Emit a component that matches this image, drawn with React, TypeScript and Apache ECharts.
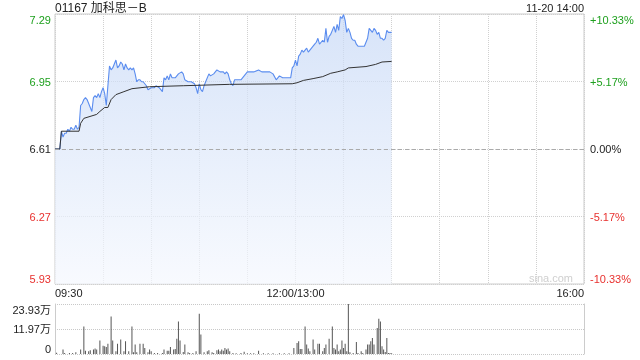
import React, { useEffect, useRef } from "react";
import * as echarts from "echarts";

const prevClose = 6.61;
const titleText = "01167 加科思－B";
const dateText = "11-20 14:00";

// minute index from 09:30 (lunch break removed; 150 = 12:00/13:00, 330 = 16:00)
const priceMinutes = [
  0, 3, 4, 5, 6, 7, 8, 9, 10, 11, 12, 13, 14, 15, 16, 17, 18, 19, 20, 21, 22, 23, 24, 25, 26, 27, 28, 29, 30, 31, 32,
  34, 35, 36, 37, 38, 39, 40, 41, 42, 43, 44, 45, 46, 47, 48, 49, 50, 51, 52, 53, 54, 55, 56, 57, 58, 60, 62, 63, 65,
  67, 68, 69, 70, 71, 72, 73, 75, 77, 79, 80, 81, 83, 85, 87, 88, 89, 90, 91, 92, 93, 94, 96, 97, 99, 101, 103, 105,
  106, 107, 108, 109, 110, 111, 112, 116, 118, 120, 124, 127, 129, 134, 136, 138, 140, 142, 147, 148, 149, 150, 151,
  152, 153, 154, 155, 156, 157, 158, 159, 160, 161, 162, 163, 164, 165, 166, 167, 168, 169, 170, 171, 172, 173, 174,
  175, 176, 177, 178, 179, 180, 181, 182, 183, 184, 185, 186, 187, 188, 189, 190, 193, 194, 195, 196, 197, 198, 199,
  200, 201, 202, 203, 204, 205, 206, 207, 208, 210,
];
const priceValues = [
  6.61, 6.61, 6.70, 6.67, 6.69, 6.69, 6.71, 6.70, 6.72, 6.71, 6.71, 6.73, 6.71, 6.72, 6.83, 6.84, 6.86, 6.87, 6.86,
  6.84, 6.82, 6.80, 6.87, 6.88, 6.87, 6.89, 6.87, 6.90, 6.92, 6.89, 6.83,
  7.03, 7.01, 7.02, 7.04, 7.06, 7.02, 7.03, 7.05, 7.04, 7.01, 7.04, 7.02, 7.01, 7.02, 7.01, 7.02, 6.99, 6.95, 6.96,
  6.96, 6.95, 6.95, 6.94, 6.93, 6.91, 6.92, 6.92, 6.93, 6.92,
  6.90, 6.97, 6.96, 6.98, 6.96, 6.99, 6.97, 6.97, 6.99, 7.00, 6.99, 6.96, 6.95, 6.95, 6.94, 6.92, 6.89, 6.94, 6.91,
  6.90, 6.93, 6.95, 6.99, 6.98, 6.99, 7.01, 7.00, 7.00,
  6.99, 7.00, 6.99, 6.96, 6.94, 6.93, 6.96, 6.96, 6.98, 7.00, 7.00, 7.01, 7.00, 7.00, 6.99, 6.96, 6.98, 6.97, 6.97,
  7.02, 7.03, 7.06, 7.03,
  7.08, 7.09, 7.11, 7.10, 7.11, 7.12, 7.10, 7.11, 7.12, 7.13, 7.14, 7.15, 7.17, 7.14, 7.15, 7.16, 7.15, 7.22, 7.15,
  7.18, 7.19, 7.21, 7.23, 7.20, 7.24, 7.21, 7.28, 7.27, 7.29, 7.26, 7.20, 7.22, 7.20, 7.17, 7.16, 7.16, 7.14, 7.13,
  7.13, 7.13, 7.15, 7.17, 7.22, 7.21, 7.20, 7.22, 7.21, 7.19, 7.20, 7.17, 7.17, 7.16, 7.17, 7.21, 7.20, 7.20,
];

const avgMinutes = [0, 3, 4, 15, 16, 18, 26, 28, 31, 33, 35, 38, 43, 48, 59, 80, 109, 148, 151, 155, 161, 167, 172, 176, 181, 183, 194, 200, 204, 210];
const avgValues = [
  6.61, 6.61, 6.70, 6.70, 6.74, 6.765, 6.785, 6.80, 6.82, 6.82, 6.86, 6.885, 6.90, 6.915, 6.925, 6.93, 6.937, 6.94,
  6.945, 6.957, 6.966, 6.976, 6.993, 7.0, 7.01, 7.02, 7.027, 7.038, 7.05, 7.053,
];

// volume in 万 shares
const volMinutes = [
  1, 5, 6, 9, 11, 13, 16, 18, 19, 21, 22, 24, 25, 26, 28, 30, 31, 32, 33, 35, 36, 38, 39, 41, 43, 44, 46, 48, 49, 50,
  51, 53, 55, 56, 58, 59, 60, 62, 64, 67, 68, 70, 71, 72, 74, 75, 76, 77, 78, 80, 81, 83, 84, 86, 88, 90, 91, 93, 95,
  96, 98, 99, 101, 102, 103, 104, 105, 106, 107, 108, 109, 111, 113, 116, 118, 120, 122, 124, 127, 130, 133, 136, 140,
  143, 146, 149, 151, 152, 153, 154, 156, 157, 158, 159, 161, 162, 164, 165, 167, 168, 169, 171, 173, 174, 175, 176,
  177, 178, 179, 180, 181, 182, 183, 184, 186, 188, 189, 191, 192, 194, 195, 196, 197, 198, 199, 201, 202, 203, 204,
  205, 206, 207, 208, 209, 210,
];
const volValues = [
  0.6, 2.1, 0.5, 0.5, 0.5, 0.8, 2.1, 13.2, 1.6, 1.3, 1.8, 2.1, 2.6, 2.1, 6.5, 4.0, 3.7, 3.4, 4.9, 18.0, 6.5, 1.3, 4.9,
  6.9, 1.3, 6.1, 1.3, 13.2, 0.8, 4.5,
  0.8, 4.9, 4.9, 2.9, 0.8, 2.1, 1.3, 0.5, 0.5, 0.5, 2.1, 1.6, 1.6, 3.4, 2.1, 2.4, 7.3, 15.6, 6.5, 1.0, 4.5, 0.8, 0.5,
  0.5, 1.3, 19.3, 9.3, 0.8, 1.3,
  1.8, 0.8, 0.5, 1.8, 2.1, 1.3, 2.1, 1.6, 2.9, 2.1, 2.6, 1.3, 0.5, 0.3, 0.5, 1.1, 0.3, 0.3, 0.3, 1.6, 0.3, 0.3, 0.3, 0.3,
  0.3, 0.3, 2.9, 5.3, 6.1, 2.4, 2.4, 13.2, 4.5, 2.6, 1.3, 6.9, 2.1, 4.9, 4.9, 1.3, 2.9, 4.5, 7.3, 13.2, 2.9, 2.1, 4.5,
  1.3, 2.1, 6.5, 2.9, 4.9, 1.3, 23.93, 0.8, 0.5, 5.7, 0.5, 1.3, 0.5, 2.1, 4.5, 4.5, 6.1, 7.7, 4.5, 12.4, 16.9, 15.6, 3.7,
  2.1, 1.0, 7.7, 0.5, 0.5, 0.3,
];

const xTickValues = [0, 150, 330];
const xTickLabels = ["09:30", "12:00/13:00", "16:00"];
const priceTickLabels = ["5.93", "6.27", "6.61", "6.95", "7.29"];
const pctTickLabels = ["-10.33%", "-5.17%", "0.00%", "+5.17%", "+10.33%"];
const volTickLabels = ["0", "11.97万", "23.93万"];
const volMax = 23.93;

const FONT = "'Liberation Sans', Arial, 'Noto Sans CJK SC', sans-serif";
const GREEN = "#1ea01e";
const RED = "#e8312f";

export default function App() {
  const ref = useRef<HTMLDivElement>(null);
  useEffect(() => {
    if (!ref.current) return;
    const chart = echarts.init(ref.current, undefined, { renderer: "svg" });
    const iv = 0.3414;
    const tickColor = (i: number) => (i < 2 ? RED : i > 2 ? GREEN : "#222");
    const priceData = priceMinutes.map((m, i) => [m, priceValues[i] - prevClose]);
    const avgData = avgMinutes.map((m, i) => [m, avgValues[i] - prevClose]);
    const volData = volMinutes.map((m, i) => [m, volValues[i]]);
    const gridL = 55;
    const gridR = 56;
    chart.setOption({
      animation: false,
      textStyle: { fontFamily: FONT },
      grid: [
        { left: gridL, right: gridR, top: 14, height: 270, show: true, borderColor: "#cccccc", borderWidth: 1, backgroundColor: "transparent" },
        { left: gridL, right: gridR, top: 304, height: 50, show: false },
      ],
      xAxis: [
        {
          type: "value",
          gridIndex: 0,
          min: 0,
          max: 330,
          interval: 30,
          axisLine: { show: false },
          axisTick: { show: false },
          splitLine: { show: true, lineStyle: { color: "#d0d0d0", type: "dotted", width: 1 } },
          axisLabel: {
            show: true,
            margin: 3,
            fontSize: 11,
            color: "#222",
            fontFamily: FONT,
            showMinLabel: true,
            showMaxLabel: true,
            alignMinLabel: "left",
            alignMaxLabel: "right",
            formatter: (v: number) => {
              const k = xTickValues.indexOf(Math.round(v));
              return k >= 0 ? xTickLabels[k] : "";
            },
          },
        },
        {
          type: "value",
          gridIndex: 1,
          min: 0,
          max: 330,
          interval: 30,
          axisLine: { show: false },
          axisTick: { show: false },
          axisLabel: { show: false },
          splitLine: { show: false },
        },
      ],
      yAxis: [
        {
          type: "value",
          gridIndex: 0,
          min: -2 * iv,
          max: 2 * iv,
          interval: iv,
          axisLine: { show: false },
          axisTick: { show: false },
          splitLine: { show: true, lineStyle: { color: "#d0d0d0", type: "dotted", width: 1 } },
          axisLabel: {
            margin: 4,
            fontSize: 11,
            fontFamily: FONT,
            verticalAlignMinLabel: "bottom",
            verticalAlignMaxLabel: "top",
            formatter: (_v: number, i: number) => priceTickLabels[i] ?? "",
            color: (_v: any, i: number) => tickColor(i),
          },
        },
        {
          type: "value",
          gridIndex: 0,
          position: "right",
          min: -2 * iv,
          max: 2 * iv,
          interval: iv,
          axisLine: { show: false },
          axisTick: { show: false },
          splitLine: { show: false },
          axisLabel: {
            margin: 6,
            fontSize: 11,
            fontFamily: FONT,
            verticalAlignMinLabel: "bottom",
            verticalAlignMaxLabel: "top",
            formatter: (_v: number, i: number) => pctTickLabels[i] ?? "",
            color: (_v: any, i: number) => tickColor(i),
          },
        },
        {
          type: "value",
          gridIndex: 1,
          min: 0,
          max: volMax,
          interval: volMax / 2,
          axisLine: { show: true, lineStyle: { color: "#cccccc" } },
          axisTick: { show: false },
          splitLine: { show: true, lineStyle: { color: "#c8c8c8", type: "dotted", width: 1 } },
          axisLabel: {
            margin: 4,
            fontSize: 11,
            color: "#222",
            fontFamily: FONT,
            verticalAlignMinLabel: "bottom",
            verticalAlignMaxLabel: "top",
            formatter: (_v: number, i: number) => volTickLabels[i] ?? "",
          },
        },
        {
          type: "value",
          gridIndex: 1,
          position: "right",
          min: 0,
          max: volMax,
          interval: volMax / 2,
          axisLine: { show: true, lineStyle: { color: "#cccccc" } },
          axisTick: { show: false },
          axisLabel: { show: false },
          splitLine: { show: false },
        },
      ],
      series: [
        {
          type: "line",
          name: "price",
          xAxisIndex: 0,
          yAxisIndex: 0,
          data: priceData,
          showSymbol: false,
          symbol: "none",
          lineStyle: { color: "#5b8def", width: 1.1 },
          areaStyle: {
            origin: "start",
            color: new echarts.graphic.LinearGradient(0, 0, 0, 1, [
              { offset: 0, color: "#c6d8f6" },
              { offset: 1, color: "#f5f8fe" },
            ]),
          },
          markLine: {
            silent: true,
            symbol: "none",
            label: { show: false },
            lineStyle: { color: "#aaaaaa", type: [4, 3], width: 1 },
            data: [{ yAxis: 0 }],
          },
          z: 2,
        },
        {
          type: "line",
          name: "avg",
          xAxisIndex: 0,
          yAxisIndex: 0,
          data: avgData,
          showSymbol: false,
          symbol: "none",
          lineStyle: { color: "#333333", width: 1 },
          z: 3,
        },
        {
          type: "bar",
          name: "vol",
          xAxisIndex: 1,
          yAxisIndex: 2,
          data: volData,
          barWidth: 1,
          itemStyle: { color: "#555555" },
        },
      ],
      graphic: [
        {
          type: "text",
          left: 55,
          top: 2,
          style: { text: titleText, fontSize: 12, fill: "#222", fontFamily: FONT },
        },
        {
          type: "text",
          right: 56,
          top: 2,
          style: { text: dateText, fontSize: 11, fill: "#222", fontFamily: FONT },
        },
        {
          type: "text",
          right: 67,
          top: 272,
          style: { text: "sina.com", fontSize: 11, fill: "#cfcfcf", fontFamily: FONT },
        },
      ],
    });
    return () => chart.dispose();
  }, []);
  return <div ref={ref} style={{ position: "fixed", left: 0, top: 0, width: 640, height: 360 }} />;
}
